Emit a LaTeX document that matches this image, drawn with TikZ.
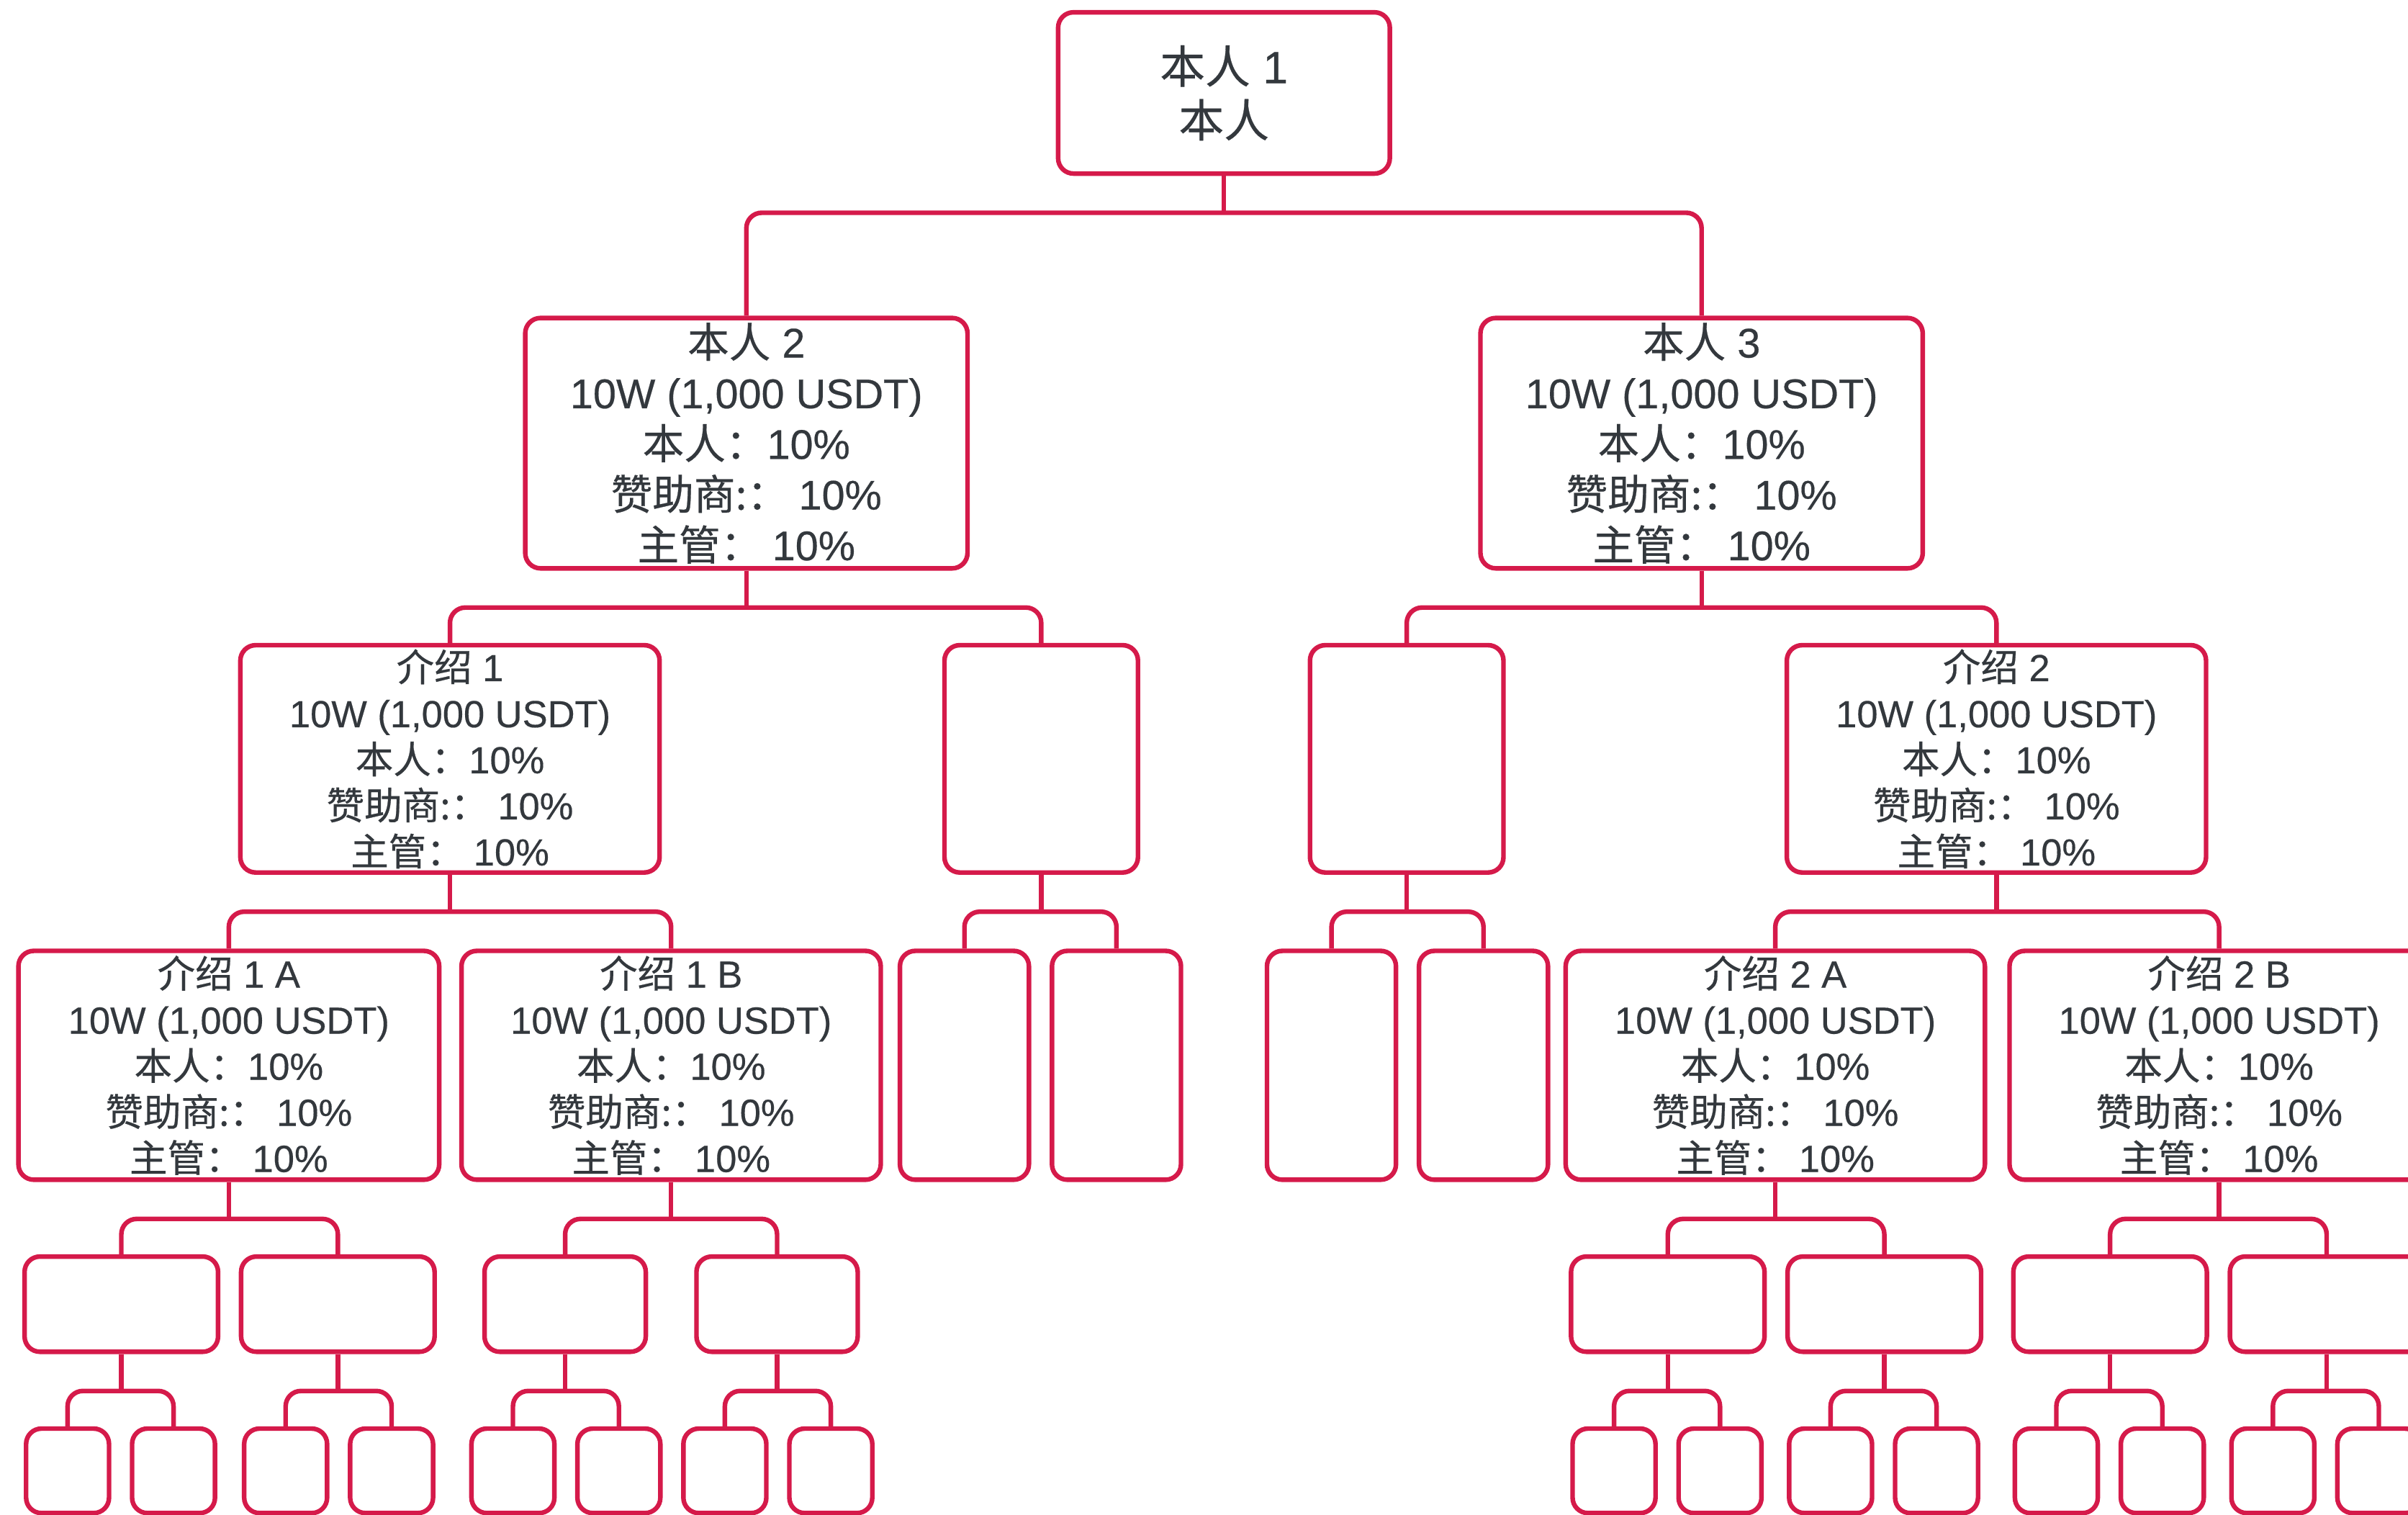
\documentclass[tikz,border=0pt]{standalone}
\usepackage{fontspec}
\setmainfont[FakeBold=0.35]{Liberation Sans}
\newfontfamily\cjk[FakeBold=0.45]{Noto Sans CJK SC}
\usetikzlibrary{calc}
\definecolor{rim}{HTML}{D51A4A}
\definecolor{ink}{HTML}{33383D}
\tikzset{
  box/.style={draw=rim, line width=1.5pt, rounded corners=5pt, inner sep=0pt, align=center, text=ink, fill=white},
  conn/.style={draw=rim, line width=1.5pt, rounded corners=5pt},
  tz/.style={font=\fontsize{14.7}{17.5}\selectfont},
  ta/.style={font=\fontsize{13.5}{16.5}\selectfont},
  tb/.style={font=\fontsize{12.3}{15}\selectfont},
}
\newcommand{\bx}[7]{\node[box,#7,minimum width=#4*0.5pt,minimum height=#5*0.5pt] (#1) at (#2,#3) {#6};}
\newcommand{\info}[1]{#1\\10W (1,000 USDT)\\{\cjk 本人：}10\%\\{\cjk 赞助商:：}\hspace{0.25em}10\%\\{\cjk 主管：}\hspace{0.25em}10\%}
\newcommand{\tee}[3]{%
  \coordinate (#1bar) at ($(#1.south)+(0,24)$);
  \draw[conn] (#1.south) -- (#1bar);
  \draw[conn] (#2.north) -- (#2.north |- #1bar) -- (#3.north |- #1bar) -- (#3.north);
}
\begin{document}
\begin{tikzpicture}[x=0.5pt,y=-0.5pt]
\useasboundingbox (0,0) rectangle (1568,986);
% level 0
\bx{n0}{797}{60.5}{216}{105}{{\cjk 本人} 1\\{\cjk 本人}}{tz}
% level 1
\bx{n2}{486}{288.5}{288}{163}{\info{{\cjk 本人} 2}}{ta}
\bx{n3}{1108}{288.5}{288}{163}{\info{{\cjk 本人} 3}}{ta}
% level 2
\bx{j1}{293}{494}{273}{148}{\info{{\cjk 介绍} 1}}{tb}
\bx{e1}{678}{494}{126}{148}{}{tb}
\bx{e2}{916}{494}{126}{148}{}{tb}
\bx{j2}{1300}{494}{273}{148}{\info{{\cjk 介绍} 2}}{tb}
% level 3
\bx{j1a}{149}{693.5}{274}{149}{\info{{\cjk 介绍} 1 A}}{tb}
\bx{j1b}{437}{693.5}{273}{149}{\info{{\cjk 介绍} 1 B}}{tb}
\bx{e1a}{628}{693.5}{84}{149}{}{tb}
\bx{e1b}{727}{693.5}{84}{149}{}{tb}
\bx{e2a}{867}{693.5}{84}{149}{}{tb}
\bx{e2b}{966}{693.5}{84}{149}{}{tb}
\bx{j2a}{1156}{693.5}{273}{149}{\info{{\cjk 介绍} 2 A}}{tb}
\bx{j2b}{1445}{693.5}{273}{149}{\info{{\cjk 介绍} 2 B}}{tb}
% level 4
\bx{f1}{79}{849}{126}{62}{}{tb}
\bx{f2}{220}{849}{126}{62}{}{tb}
\bx{f3}{368}{849}{105}{62}{}{tb}
\bx{f4}{506}{849}{105}{62}{}{tb}
\bx{f5}{1086}{849}{126}{62}{}{tb}
\bx{f6}{1227}{849}{126}{62}{}{tb}
\bx{f7}{1374}{849}{126}{62}{}{tb}
\bx{f8}{1515}{849}{126}{62}{}{tb}
% level 5
\bx{g1}{44}{957.5}{54}{55}{}{tb}
\bx{g2}{113}{957.5}{54}{55}{}{tb}
\bx{g3}{186}{957.5}{54}{55}{}{tb}
\bx{g4}{255}{957.5}{54}{55}{}{tb}
\bx{g5}{334}{957.5}{54}{55}{}{tb}
\bx{g6}{403}{957.5}{54}{55}{}{tb}
\bx{g7}{472}{957.5}{54}{55}{}{tb}
\bx{g8}{541}{957.5}{54}{55}{}{tb}
\bx{g9}{1051}{957.5}{54}{55}{}{tb}
\bx{g10}{1120}{957.5}{54}{55}{}{tb}
\bx{g11}{1192}{957.5}{54}{55}{}{tb}
\bx{g12}{1261}{957.5}{54}{55}{}{tb}
\bx{g13}{1339}{957.5}{54}{55}{}{tb}
\bx{g14}{1408}{957.5}{54}{55}{}{tb}
\bx{g15}{1480}{957.5}{54}{55}{}{tb}
\bx{g16}{1549}{957.5}{54}{55}{}{tb}
% connectors
\tee{n0}{n2}{n3}
\tee{n2}{j1}{e1}
\tee{n3}{e2}{j2}
\tee{j1}{j1a}{j1b}
\tee{e1}{e1a}{e1b}
\tee{e2}{e2a}{e2b}
\tee{j2}{j2a}{j2b}
\tee{j1a}{f1}{f2}
\tee{j1b}{f3}{f4}
\tee{j2a}{f5}{f6}
\tee{j2b}{f7}{f8}
\tee{f1}{g1}{g2}
\tee{f2}{g3}{g4}
\tee{f3}{g5}{g6}
\tee{f4}{g7}{g8}
\tee{f5}{g9}{g10}
\tee{f6}{g11}{g12}
\tee{f7}{g13}{g14}
\tee{f8}{g15}{g16}
\end{tikzpicture}
\end{document}
